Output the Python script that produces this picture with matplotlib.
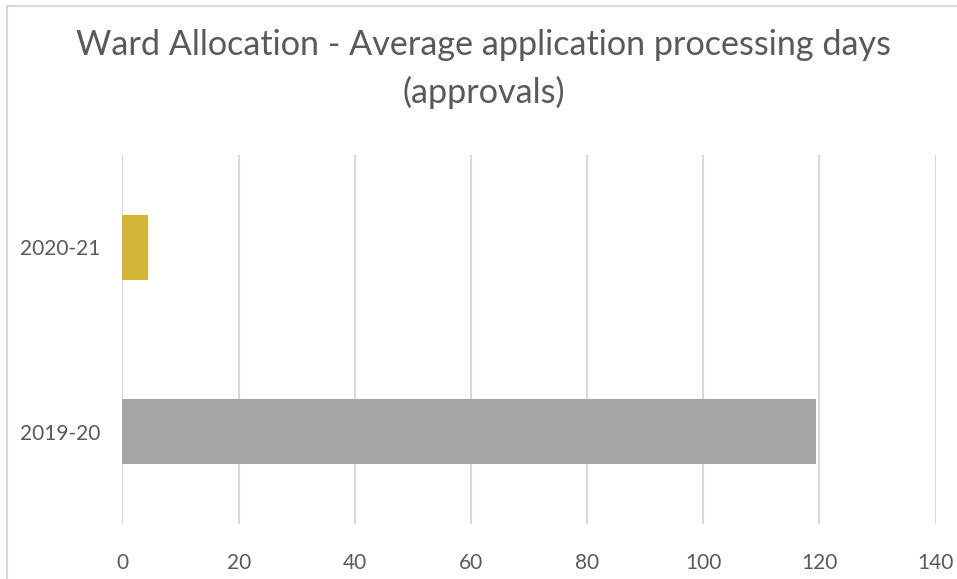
import matplotlib
matplotlib.use("Agg")
import matplotlib.pyplot as plt
from matplotlib.patches import Rectangle

# data
years = ["2019-20", "2020-21"]
avg_days = [119.4, 4.4]
bar_colors = ["#A5A5A5", "#D3B537"]
x_ticks = [0, 20, 40, 60, 80, 100, 120, 140]

plt.rcParams["font.family"] = ["Lato", "DejaVu Sans"]
text_col = "#595959"

fig = plt.figure(figsize=(9.57, 5.79), dpi=100)
fig.patches.append(Rectangle((7 / 957, -0.1), 1.2, (579 - 6) / 579 + 0.1,
                             transform=fig.transFigure, fill=False,
                             edgecolor="#D9D9D9", linewidth=1.5, zorder=0))

ax = fig.add_axes([122.5 / 957, 55 / 579, 813 / 957, 369 / 579])
ax.barh(range(len(years)), avg_days, height=0.35, color=bar_colors, zorder=3)
ax.set_xlim(0, 140)
ax.set_ylim(-0.5, 1.5)
ax.set_xticks(x_ticks)
ax.set_yticks(range(len(years)))
ax.set_yticklabels(years)
ax.grid(axis="x", color="#D9D9D9", linewidth=1.5, zorder=0)
for s in ax.spines.values():
    s.set_visible(False)
ax.tick_params(axis="x", length=0, pad=21, labelsize=15, labelcolor=text_col)
ax.tick_params(axis="y", length=0, pad=16, labelsize=15, labelcolor=text_col)

fig.text(0.505, 0.881, "Ward Allocation - Average application processing days\n(approvals)",
         ha="center", va="center", fontsize=24.6, color=text_col, linespacing=1.52)

fig.savefig("out.png", dpi=100)
